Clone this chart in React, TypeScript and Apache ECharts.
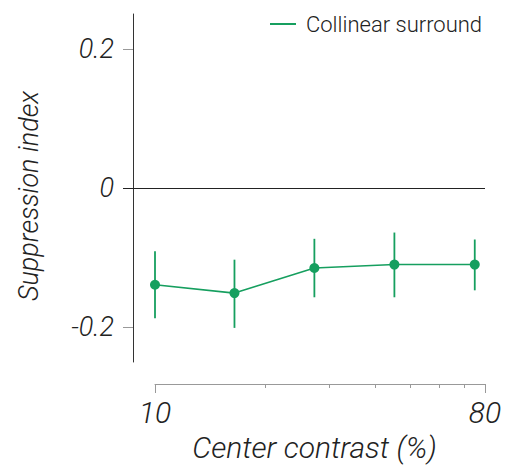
import React, { useEffect, useRef } from "react";
import * as echarts from "echarts";

const contrast = [10, 16.5, 27.3, 45.2, 75];
const meanSI = [-0.139, -0.151, -0.115, -0.11, -0.11];
const errLow = [-0.187, -0.201, -0.157, -0.157, -0.147];
const errHigh = [-0.091, -0.103, -0.073, -0.064, -0.074];
const yTicks = [-0.2, 0, 0.2];
const xMajorTicks = [10, 80];
const xMinorTicks = [20, 30, 40, 50, 60, 70];
const seriesName = "Collinear surround";

const GREEN = "#169f5f";
const FONT = "Roboto";

export default function App() {
  const ref = useRef<HTMLDivElement>(null);
  useEffect(() => {
    if (!ref.current) return;
    const chart = echarts.init(ref.current, null, { renderer: "svg" });
    // data grid extends 32px left of the x=10 position; compute matching log min
    const xMin = 10 ** (1 - (32 / 330) * Math.log10(80 / 10));
    const textBase = { fontFamily: FONT, fontWeight: 300, color: "#222" };
    chart.setOption({
      animation: false,
      legend: {
        data: [{ name: seriesName, icon: "rect" }],
        left: 265,
        top: 8,
        itemWidth: 26,
        itemHeight: 2,
        textStyle: { ...textBase, fontSize: 22, padding: [0, 0, 0, 5] },
      },
      grid: [
        { left: 123, right: 20, top: 14, bottom: 108 },
        { left: 155, right: 20, top: 14, bottom: 108 },
      ],
      xAxis: [
        { gridIndex: 0, type: "log", min: xMin, max: 80, show: false },
        {
          gridIndex: 1,
          type: "log",
          position: "bottom",
          min: 10,
          max: 80,
          offset: 22,
          axisLine: { show: true, onZero: false, lineStyle: { color: "#999", width: 1 } },
          axisTick: { show: true, customValues: xMajorTicks, length: 9, lineStyle: { color: "#999" } },
          axisLabel: {
            show: true,
            customValues: xMajorTicks,
            margin: 13,
            ...textBase,
            fontStyle: "italic",
            fontSize: 30,
          },
          splitLine: { show: false },
          name: "Center contrast (%)",
          nameLocation: "middle",
          nameGap: 48,
          nameTextStyle: { ...textBase, fontStyle: "italic", fontSize: 30, padding: [0, 11, 0, 0] },
        },
        {
          gridIndex: 1,
          type: "log",
          position: "bottom",
          min: 10,
          max: 80,
          offset: 22,
          axisLine: { show: false, onZero: false },
          axisTick: { show: true, customValues: xMinorTicks, length: 4, lineStyle: { color: "#999" } },
          axisLabel: { show: false },
          splitLine: { show: false },
        },
      ],
      yAxis: [
        {
          gridIndex: 0,
          type: "value",
          min: -0.25,
          max: 0.25,
          offset: -10,
          axisLine: { show: true, lineStyle: { color: "#333", width: 1 } },
          axisTick: { show: true, customValues: yTicks, length: 10, lineStyle: { color: "#999" } },
          axisLabel: {
            show: true,
            customValues: yTicks,
            margin: 19,
            formatter: (v: number) => (v === 0 ? "0" : v.toFixed(1)),
            ...textBase,
            fontStyle: "italic",
            fontSize: 27,
          },
          splitLine: { show: false },
          name: "Suppression index",
          nameLocation: "middle",
          nameGap: 91,
          nameTextStyle: { ...textBase, fontStyle: "italic", fontSize: 27, padding: [0, 16, 0, 0] },
        },
        { gridIndex: 1, type: "value", min: -0.25, max: 0.25, show: false },
      ],
      series: [
        {
          type: "custom",
          name: seriesName + " error",
          xAxisIndex: 0,
          yAxisIndex: 0,
          silent: true,
          z: 2,
          data: contrast.map((c, i) => [c, errLow[i], errHigh[i]]),
          encode: { x: 0, y: [1, 2] },
          renderItem: (params: any, api: any) => {
            const x = api.value(0);
            const lo = api.coord([x, api.value(1)]);
            const hi = api.coord([x, api.value(2)]);
            return {
              type: "line",
              shape: { x1: lo[0], y1: lo[1], x2: hi[0], y2: hi[1] },
              style: { stroke: GREEN, lineWidth: 1.8 },
            };
          },
        },
        {
          type: "line",
          name: seriesName,
          xAxisIndex: 0,
          yAxisIndex: 0,
          z: 3,
          data: contrast.map((c, i) => [c, meanSI[i]]),
          symbol: "circle",
          symbolSize: 10,
          itemStyle: { color: GREEN },
          lineStyle: { color: GREEN, width: 1.6 },
          markLine: {
            silent: true,
            symbol: "none",
            label: { show: false },
            lineStyle: { color: "#222", width: 1, type: "solid" },
            data: [{ yAxis: 0 }],
          },
        },
      ],
    });
    return () => chart.dispose();
  }, []);
  return (
    <div
      ref={ref}
      style={{ position: "absolute", left: 0, top: 0, width: 505, height: 470 }}
    />
  );
}
